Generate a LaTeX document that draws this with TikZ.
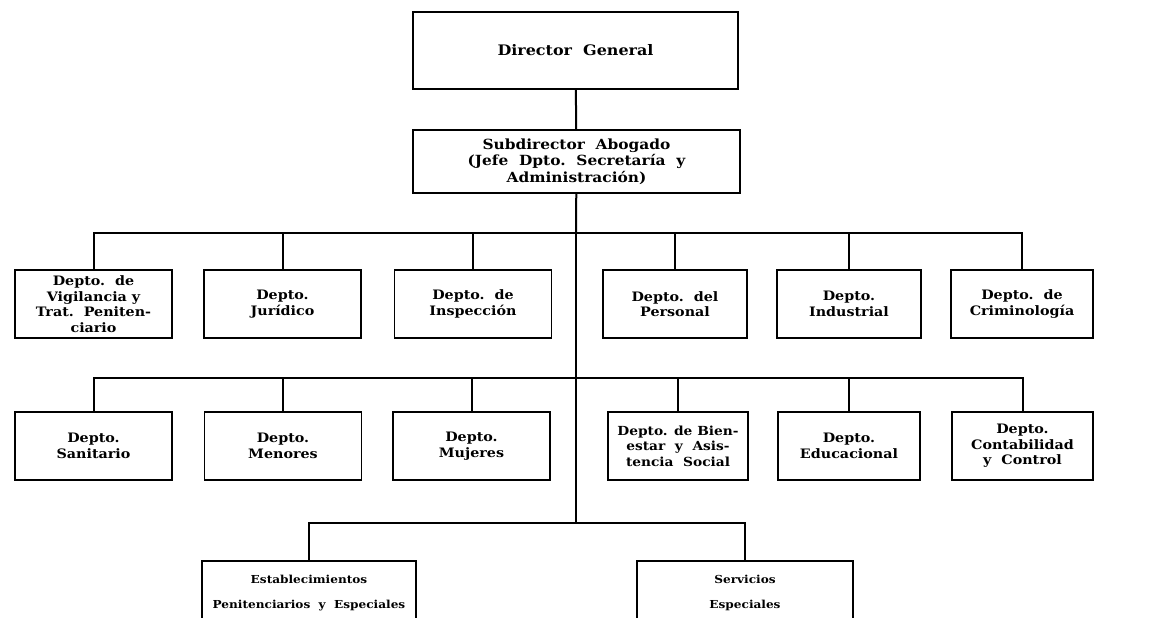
\documentclass[tikz,border=0pt]{standalone}
\usepackage{fontspec}
\setmainfont{DejaVu Serif}[FakeStretch=1.1]
\begin{document}
\begin{tikzpicture}[x=1pt,y=-1pt,
  box/.style={draw,line width=1.8pt,rectangle,inner sep=0pt,align=center,
    font=\fontsize{13}{15.5}\selectfont\bfseries},
  wbox/.style={box,minimum width=157pt,minimum height=68pt},
  nbox/.style={box,minimum width=144pt,minimum height=68pt},
  lowbox/.style={box,minimum height=64pt,font=\fontsize{11}{25}\selectfont\bfseries},
  link/.style={line width=2pt},
  trunk/.style={line width=2.4pt}]
\useasboundingbox (0,0) rectangle (1149,618);
\fill[white] (0,0) rectangle (1149,618);
\clip (0,0) rectangle (1149,618);
% top
\node[box,minimum width=325pt,minimum height=77pt,font=\fontsize{14.5}{16}\selectfont\bfseries] (dg) at (575.5,50.5) {Director\ \ General};
\node[box,minimum width=327pt,minimum height=63pt,font=\fontsize{14}{16.5}\selectfont\bfseries] (sd) at (576.5,161.5) {Subdirector\ \ Abogado\\(Jefe\ \ Dpto.\ \ Secretaría\ \ y\\Administración)};
% row 1
\node[wbox] (a1) at (93.5,304) {Depto.\ \ de\\Vigilancia y\\Trat.\ \ Peniten-\\ciario};
\node[wbox] (a2) at (282.5,304) {Depto.\\Jurídico};
\node[wbox] (a3) at (473,304) {Depto.\ \ de\\Inspección};
\node[nbox] (a4) at (675,304) {Depto.\ \ del\\Personal};
\node[nbox] (a5) at (849,304) {Depto.\\Industrial};
\node[nbox,minimum width=142pt] (a6) at (1022,304) {Depto.\ \ de\\Criminología};
% row 2
\node[wbox] (b1) at (93.5,446) {Depto.\\Sanitario};
\node[wbox] (b2) at (283,446) {Depto.\\Menores};
\node[wbox] (b3) at (471.5,446) {Depto.\\Mujeres};
\node[nbox,minimum width=140pt,font=\fontsize{12.5}{15.5}\selectfont\bfseries] (b4) at (678,446) {Depto. de Bien-\\estar\ \ y\ \ Asis-\\tencia\ \ Social};
\node[nbox,minimum width=142pt] (b5) at (849,446) {Depto.\\Educacional};
\node[nbox,minimum width=141pt] (b6) at (1022.5,446) {Depto.\\Contabilidad\\y\ \ Control};
% bottom
\node[lowbox,minimum width=214pt] (e1) at (309,593) {Establecimientos\\Penitenciarios\ \ y\ \ Especiales};
\node[lowbox,minimum width=216pt] (e2) at (745,593) {Servicios\\Especiales};
% junctions
\coordinate (j1) at (576,233);
\coordinate (j2) at (576,378);
\coordinate (j3) at (576,523);
% connectors
\draw[link] (dg) -- (sd);
\draw[link] (sd) -- (j1);
\draw[trunk] (j1) -- (j3);
\foreach \n in {a1,a2,a3,a4,a5,a6} \draw[link] (\n.north) |- (j1);
\foreach \n in {b1,b2,b3,b4,b5,b6} \draw[link] (\n.north) |- (j2);
\foreach \n in {e1,e2} \draw[link] (\n.north) |- (j3);
\end{tikzpicture}
\end{document}
